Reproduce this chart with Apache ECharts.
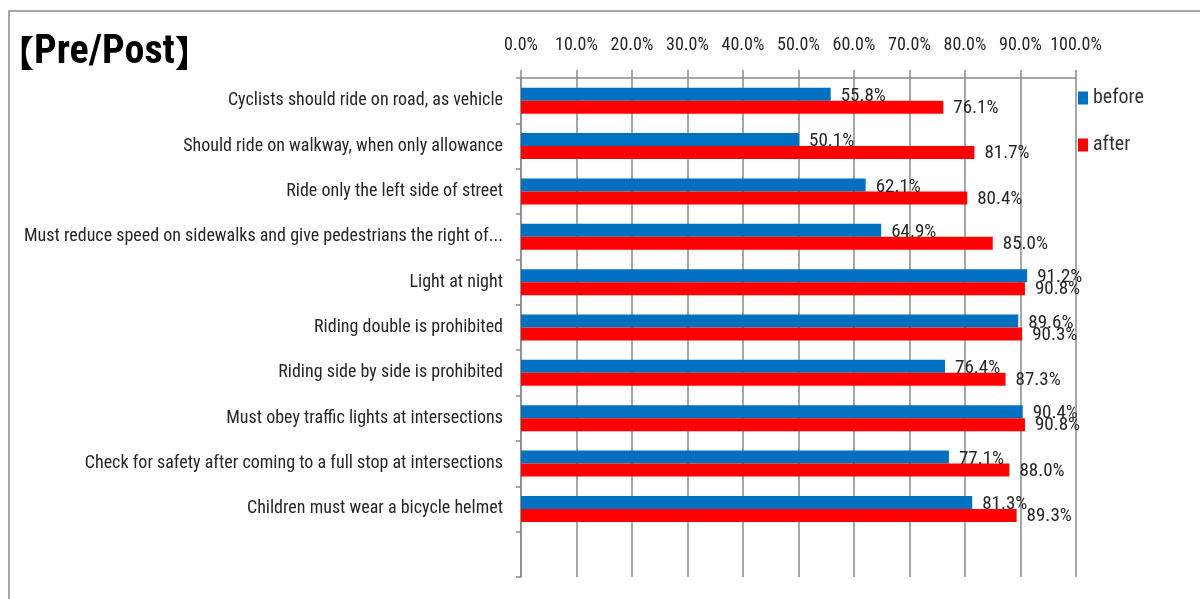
<!DOCTYPE html>
<html>
<head>
<meta charset="utf-8">
<script src="https://cdn.jsdelivr.net/npm/echarts@6/dist/echarts.min.js"></script>
<style>
html,body{margin:0;padding:0;background:#fff;}
#chart{width:1200px;height:599px;}
</style>
</head>
<body>
<div id="chart"></div>
<script>
const categories = [
  "Cyclists should ride on road, as vehicle",
  "Should ride on walkway, when only allowance",
  "Ride only the left side of street",
  "Must reduce speed on sidewalks and give pedestrians the right of...",
  "Light at night",
  "Riding double is prohibited",
  "Riding side by side is prohibited",
  "Must obey traffic lights at intersections",
  "Check for safety after coming to a full stop at intersections",
  "Children must wear a bicycle helmet",
  ""
];
const before = [55.8, 50.1, 62.1, 64.9, 91.2, 89.6, 76.4, 90.4, 77.1, 81.3, null];
const after  = [76.1, 81.7, 80.4, 85.0, 90.8, 90.3, 87.3, 90.8, 88.0, 89.3, null];
const seriesNames = ["before", "after"];
const titleParts = ["【", "Pre/Post", "】"];

const FONT = "'Roboto Condensed', 'Liberation Sans', sans-serif";
const chart = echarts.init(document.getElementById('chart'));
const labelCfg = (dy) => ({
  show: true, position: 'right', distance: 10, offset: [0, dy],
  formatter: p => p.value.toFixed(1) + '%',
  fontFamily: FONT, fontSize: 19, color: '#262626'
});
chart.setOption({
  animation: false,
  graphic: [{
    type: 'rect', shape: {x: 9, y: 11, width: 1250, height: 650},
    style: {fill: 'none', stroke: '#8a8a8a', lineWidth: 1.5}, silent: true
  }],
  title: {
    text: '{b|' + titleParts[0] + '}{t|' + titleParts[1] + '}{b|' + titleParts[2] + '}',
    left: -7, top: 28,
    textStyle: {
      rich: {
        b: {fontFamily: "'Noto Sans CJK JP', sans-serif", fontWeight: 'bold', fontSize: 36, color: '#000'},
        t: {fontFamily: FONT, fontWeight: 'bold', fontSize: 40, color: '#000'}
      }
    }
  },
  legend: {
    orient: 'vertical', left: 1073, top: 83, itemGap: 27,
    itemWidth: 10, itemHeight: 13, icon: 'rect',
    textStyle: {fontFamily: FONT, fontSize: 20, color: '#333'},
    data: seriesNames
  },
  grid: {left: 521, right: 124, top: 78, bottom: 22, containLabel: false, outerBoundsMode: 'none'},
  xAxis: {
    type: 'value', position: 'top', min: 0, max: 100, interval: 10,
    axisLine: {show: true, lineStyle: {color: '#8a8a8a', width: 1.5}},
    axisTick: {show: true, length: 8, lineStyle: {color: '#8a8a8a', width: 1.5}},
    splitLine: {show: true, lineStyle: {color: '#8a8a8a', width: 1.5}},
    axisLabel: {formatter: v => v.toFixed(1) + '%', margin: 24, fontFamily: FONT, fontSize: 18, color: '#262626'}
  },
  yAxis: {
    type: 'category', inverse: true, data: categories,
    axisLine: {show: true, lineStyle: {color: '#8a8a8a', width: 1.5}},
    axisTick: {show: true, length: 5, lineStyle: {color: '#8a8a8a', width: 1.5}},
    axisLabel: {margin: 18, fontFamily: FONT, fontSize: 18, color: '#262626', interval: 0}
  },
  series: [
    {name: seriesNames[0], type: 'bar', data: before, barWidth: 13, barGap: '0%',
     itemStyle: {color: '#0070C0'}, label: labelCfg(2)},
    {name: seriesNames[1], type: 'bar', data: after, barWidth: 13, barGap: '0%',
     itemStyle: {color: '#FF0000'}, label: labelCfg(1)}
  ]
});
</script>
</body>
</html>
